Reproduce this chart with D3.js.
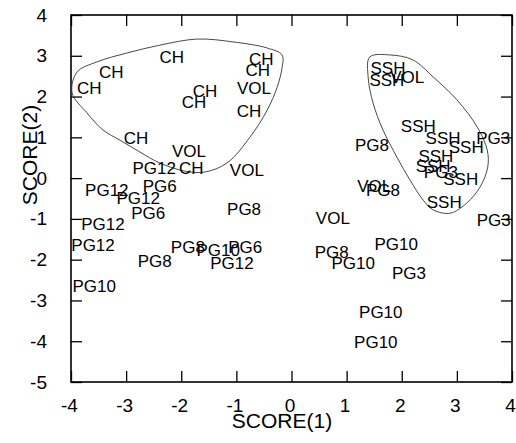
<!DOCTYPE html>
<html><head><meta charset="utf-8">
<script src="https://cdn.jsdelivr.net/npm/d3@7"></script>
<style>body{margin:0;background:#fff}svg{display:block}text{font-family:"Liberation Sans",Arial,sans-serif;fill:#000}</style>
</head><body>
<svg id="c" width="516" height="443"></svg>
<script>
// Labelled points (score1, score2)
const labels = ["CH","CH","CH","CH","CH","VOL","CH","CH","CH","CH","VOL","PG12","CH","VOL","PG12","PG6","PG12","PG6","PG8","PG12","PG12","PG8","PG10","PG6","PG12","PG8","PG10",
  "SSH","SSH","VOL","SSH","PG8","SSH","SSH","PG3","SSH","SSH","PG3","SSH","VOL","PG8","SSH","VOL","PG3","PG10","PG8","PG10","PG3","PG10","PG10"];
const score1 = [-2.17,-3.27,-3.67,-0.55,-0.61,-0.68,-0.77,-1.57,-1.77,-2.82,-1.86,-2.49,-1.82,-0.81,-3.35,-2.39,-2.78,-2.60,-0.86,-3.42,-3.60,-1.88,-1.33,-0.84,-1.08,-2.48,-3.58,
  1.75,1.73,2.10,2.30,1.46,2.75,3.17,3.66,2.62,2.57,2.71,3.07,1.50,1.66,2.77,0.75,3.67,1.90,0.73,1.12,2.13,1.62,1.53];
const score2 = [2.97,2.60,2.21,2.92,2.65,2.21,1.65,2.14,1.87,0.98,0.67,0.25,0.25,0.20,-0.29,-0.19,-0.49,-0.86,-0.76,-1.13,-1.64,-1.69,-1.76,-1.69,-2.08,-2.03,-2.65,
  2.70,2.41,2.48,1.28,0.81,0.98,0.76,0.98,0.54,0.30,0.15,-0.02,-0.19,-0.29,-0.59,-0.98,-1.03,-1.62,-1.81,-2.08,-2.33,-3.28,-4.02];

// Hand-drawn enclosing curves (data coordinates)
const hullCH_x = [-3.98,-3.89,-3.53,-2.98,-2.39,-1.71,-1.06,-0.44,-0.17,-0.17,-0.26,-0.44,-0.75,-1.17,-1.57,-1.93,-2.39,-2.75,-3.11,-3.42,-3.71];
const hullCH_y = [2.09,2.60,2.85,3.07,3.26,3.41,3.34,3.19,3.02,2.72,2.23,1.67,1.01,0.37,0.15,0.17,0.37,0.64,0.93,1.18,1.60];
const hullSSH_x = [1.42,1.79,2.20,2.57,3.00,3.37,3.55,3.56,3.42,3.18,2.88,2.57,2.39,2.15,1.91,1.66,1.48,1.39];
const hullSSH_y = [2.97,3.02,2.90,2.48,1.92,1.25,0.69,0.27,-0.22,-0.61,-0.86,-0.78,-0.54,-0.05,0.52,1.18,1.84,2.48];

const xTicks = [-4,-3,-2,-1,0,1,2,3,4];
const yTicks = [4,3,2,1,0,-1,-2,-3,-4,-5];
const xTitle = "SCORE(1)", yTitle = "SCORE(2)";

const L = 71, R = 512, T = 15, B = 382;
const svg = d3.select("#c");
const x = d3.scaleLinear().domain([-4,4]).range([L,R]);
const y = d3.scaleLinear().domain([-5,4]).range([B,T]);
const fmt = d => String(d);

svg.append("defs").append("clipPath").attr("id","pa").append("rect")
  .attr("x",L).attr("y",T).attr("width",R-L).attr("height",B-T);

// axes with inward ticks
const tl = 11;
const gB = svg.append("g").attr("transform",`translate(0,${B})`)
  .call(d3.axisBottom(x).tickValues(xTicks).tickSize(-tl).tickPadding(tl+6).tickFormat(fmt));
const gT = svg.append("g").attr("transform",`translate(0,${T})`)
  .call(d3.axisTop(x).tickValues(xTicks).tickSize(-tl).tickFormat(""));
const gL = svg.append("g").attr("transform",`translate(${L},0)`)
  .call(d3.axisLeft(y).tickValues(yTicks).tickSize(-tl).tickPadding(tl+13).tickFormat(fmt));
const gR = svg.append("g").attr("transform",`translate(${R},0)`)
  .call(d3.axisRight(y).tickValues(yTicks).tickSize(-tl).tickFormat(""));
[gB,gT,gL,gR].forEach(g=>{
  g.select(".domain").remove();
  g.selectAll(".tick line").attr("stroke","#000").attr("stroke-width",1.3);
  g.selectAll(".tick text").style("font-size","19px").attr("fill","#000");
});
gB.selectAll(".tick text").attr("dy","0.71em").attr("dx","-2");
svg.append("rect").attr("x",L).attr("y",T).attr("width",R-L).attr("height",B-T)
  .attr("fill","none").attr("stroke","#000").attr("stroke-width",1.6);

// hulls
const line = d3.line().x(d=>x(d[0])).y(d=>y(d[1])).curve(d3.curveCatmullRomClosed.alpha(0.5));
[[hullCH_x,hullCH_y],[hullSSH_x,hullSSH_y]].forEach(([hx,hy])=>{
  svg.append("path").datum(hx.map((v,i)=>[v,hy[i]])).attr("d",line)
    .attr("fill","none").attr("stroke","#333").attr("stroke-width",0.9).attr("clip-path","url(#pa)");
});

// labels
svg.append("g").attr("clip-path","url(#pa)").selectAll("text").data(labels).join("text")
  .attr("x",(d,i)=>x(score1[i])).attr("y",(d,i)=>y(score2[i]))
  .attr("text-anchor","middle").attr("dy","0.36em").style("font-size","17px").text(d=>d);

// titles
svg.append("text").attr("x",282).attr("y",428).attr("text-anchor","middle").style("font-size","21px").text(xTitle);
svg.append("text").attr("transform","translate(37,155) rotate(-90)").attr("text-anchor","middle").style("font-size","21px").text(yTitle);
</script>
</body></html>
